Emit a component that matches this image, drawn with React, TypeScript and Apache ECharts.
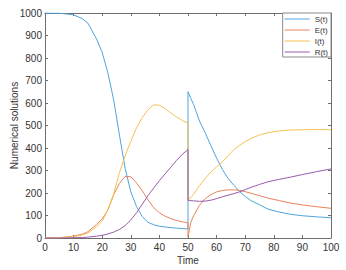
import React, { useEffect, useRef } from "react";
import * as echarts from "echarts";

const seriesNames = ["S(t)", "E(t)", "I(t)", "R(t)"];
const seriesColors = ["#4ea3dc", "#e9825a", "#f3c152", "#9a5bab"];

const timePre = [0, 5, 10, 13, 15, 18, 20, 22, 24, 26, 28, 30, 32, 34, 36, 38, 40, 42, 44, 46, 48, 50];
const sPre = [1000, 999, 992, 975, 955, 885, 825, 733, 615, 460, 310, 205, 140, 95, 70, 59, 52, 49, 46, 44, 42, 40];
const ePre = [0, 1, 8, 17, 28, 60, 85, 125, 192, 242, 274, 272, 245, 210, 170, 135, 112, 97, 86, 78, 72, 67];
const iPre = [0, 1, 6, 13, 22, 50, 75, 125, 195, 290, 365, 430, 490, 535, 570, 592, 590, 575, 555, 538, 522, 510];
const rPre = [0, 0, 1, 2, 4, 8, 12, 18, 26, 38, 55, 80, 112, 150, 188, 222, 255, 285, 315, 345, 372, 393];

const timePost = [50, 51, 52, 54, 56, 58, 60, 62, 64, 66, 68, 70, 72, 75, 78, 82, 86, 90, 95, 100];
const sPost = [650, 620, 592, 520, 468, 410, 355, 305, 265, 235, 207, 185, 166, 148, 128, 115, 105, 99, 94, 90];
const ePost = [5, 70, 100, 145, 175, 193, 205, 211, 214, 214, 212, 206, 199, 188, 177, 166, 155, 147, 139, 132];
const iPost = [170, 180, 195, 232, 265, 293, 316, 338, 366, 392, 412, 428, 442, 458, 468, 476, 480, 481, 482, 481];
const rPost = [168, 166, 165, 163, 164, 168, 175, 183, 190, 197, 205, 215, 225, 238, 250, 261, 271, 282, 295, 307];

const xTicks = { min: 0, max: 100, interval: 10 };
const yTicks = { min: 0, max: 1000, interval: 100 };

const FONT = "'Liberation Sans', Arial, sans-serif";

function pairs(ts: number[], vs: number[]) {
  return ts.map((t, i) => [t, vs[i]]);
}

export default function App() {
  const ref = useRef<HTMLDivElement>(null);
  useEffect(() => {
    if (!ref.current) return;
    const chart = echarts.init(ref.current, undefined, { renderer: "svg" });
    const pre = [sPre, ePre, iPre, rPre];
    const post = [sPost, ePost, iPost, rPost];
    const axisLineStyle = { color: "#6e6e6e", width: 1 };
    const baseX = {
      type: "value" as const,
      ...xTicks,
      splitLine: { show: false },
      axisLine: { show: true, onZero: false, lineStyle: axisLineStyle },
      axisTick: { show: true, inside: true, length: 3, lineStyle: axisLineStyle },
    };
    const baseY = {
      type: "value" as const,
      ...yTicks,
      splitLine: { show: false },
      axisLine: { show: true, onZero: false, lineStyle: axisLineStyle },
      axisTick: { show: true, inside: true, length: 3, lineStyle: axisLineStyle },
    };
    chart.setOption({
      animation: false,
      backgroundColor: "#ffffff",
      textStyle: { fontFamily: FONT },
      grid: {
        left: 45,
        right: 15,
        top: 13,
        bottom: 32,
        containLabel: false,
        outerBoundsMode: "none",
      },
      legend: {
        data: seriesNames,
        orient: "vertical",
        right: 15,
        top: 13,
        icon: "rect",
        itemWidth: 25,
        itemHeight: 1,
        itemGap: 1,
        padding: [1, 3, 0, 2],
        borderColor: "#8a8a8a",
        borderWidth: 1,
        borderRadius: 0,
        backgroundColor: "#ffffff",
        textStyle: { fontSize: 8, color: "#333", fontFamily: FONT, lineHeight: 10, height: 10 },
      },
      xAxis: [
        {
          ...baseX,
          position: "bottom",
          name: "Time",
          nameLocation: "middle",
          nameGap: 17,
          nameMoveOverlap: false,
          nameTextStyle: { fontSize: 10, color: "#333", fontFamily: FONT },
          axisLabel: { fontSize: 10, color: "#333", margin: 4, fontFamily: FONT, formatter: (v: number) => String(v) },
        },
        { ...baseX, position: "top", axisLabel: { show: false } },
      ],
      yAxis: [
        {
          ...baseY,
          position: "left",
          name: "Numerical solutions",
          nameLocation: "middle",
          nameGap: 26,
          nameMoveOverlap: false,
          nameTextStyle: { fontSize: 10, color: "#333", fontFamily: FONT },
          axisLabel: { fontSize: 10, color: "#333", margin: 3, fontFamily: FONT, formatter: (v: number) => String(v) },
        },
        { ...baseY, position: "right", axisLabel: { show: false } },
      ],
      series: seriesNames.map((name, k) => ({
        name,
        type: "line",
        xAxisIndex: 0,
        yAxisIndex: 0,
        showSymbol: false,
        symbol: "none",
        smooth: false,
        color: seriesColors[k],
        lineStyle: { color: seriesColors[k], width: 1 },
        data: [...pairs(timePre, pre[k]), ...pairs(timePost, post[k])],
      })),
    });
    return () => chart.dispose();
  }, []);
  return (
    <div
      ref={ref}
      style={{ position: "fixed", left: 0, top: 0, width: 346, height: 270 }}
    />
  );
}
